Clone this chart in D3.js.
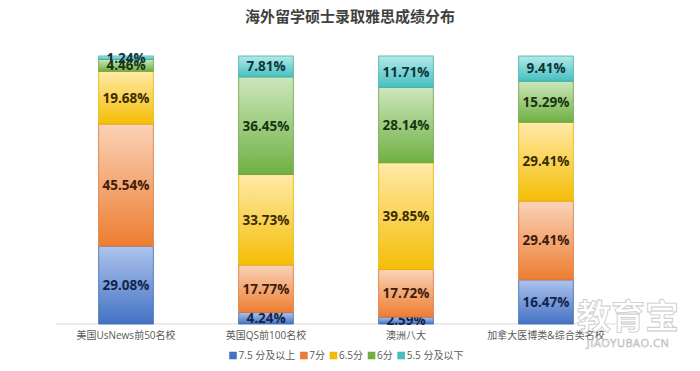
<!DOCTYPE html>
<html>
<head>
<meta charset="utf-8">
<script src="https://cdn.jsdelivr.net/npm/d3@7"></script>
<style>
  body { margin: 0; background: #fff; }
  svg { display: block; font-family: "Open Sans", "Noto Sans CJK SC", sans-serif; }
</style>
</head>
<body>
<div id="chart"></div>
<script>
// data
var schools = ["美国UsNews前50名校", "英国QS前100名校", "澳洲八大", "加拿大医博类&综合类名校"];
var bands = ["7.5 分及以上", "7分", "6.5分", "6分", "5.5 分及以下"];
var band75 = [29.08, 4.24, 2.59, 16.47];
var band7 = [45.54, 17.77, 17.72, 29.41];
var band65 = [19.68, 33.73, 39.85, 29.41];
var band6 = [4.46, 36.45, 28.14, 15.29];
var band55 = [1.24, 7.81, 11.71, 9.41];

var series_values = [band75, band7, band65, band6, band55];
// light top, strong bottom, label tint
var palette = [
  { top: "#adc4ee", bottom: "#4472c4", line: "#3f69b5", ink: "#14244a" },
  { top: "#fad3b8", bottom: "#ed7d31", line: "#dc7230", ink: "#3f1c0c" },
  { top: "#ffeaa8", bottom: "#f5bd06", line: "#e6b200", ink: "#3a2c00" },
  { top: "#cde7bd", bottom: "#6fb043", line: "#67a23f", ink: "#163511" },
  { top: "#b3eaea", bottom: "#46bfc0", line: "#3fb0b0", ink: "#0d3535" }
];

var width = 700, height = 371;
var margin = { top: 56, left: 56, right: 84, bottom: 47 };

var svg = d3.select("#chart").append("svg")
  .attr("width", width)
  .attr("height", height);

var defs = svg.append("defs");
palette.forEach(function(p, i) {
  var g = defs.append("linearGradient")
    .attr("id", "grad" + i)
    .attr("x1", 0).attr("y1", 0).attr("x2", 0).attr("y2", 1);
  g.append("stop").attr("offset", "0%").attr("stop-color", p.top);
  g.append("stop").attr("offset", "100%").attr("stop-color", p.bottom);
});

var x = d3.scaleBand()
  .domain(schools)
  .range([margin.left, width - margin.right])
  .paddingInner(0.61)
  .paddingOuter(0.305);

var y = d3.scaleLinear()
  .domain([0, 100])
  .range([height - margin.bottom, margin.top]);

//Build the stack
var rows = schools.map(function(s, i) {
  var row = { school: s };
  bands.forEach(function(b, j) { row[b] = series_values[j][i]; });
  return row;
});
var stacked = d3.stack().keys(bands)(rows);

// title
svg.append("text")
  .attr("x", width / 2)
  .attr("y", 22)
  .attr("text-anchor", "middle")
  .style("font-size", "15px")
  .style("font-weight", "bold")
  .style("fill", "#404040")
  .text("海外留学硕士录取雅思成绩分布");

// axis line
svg.append("line")
  .attr("x1", margin.left).attr("x2", width - margin.right)
  .attr("y1", y(0)).attr("y2", y(0))
  .style("stroke", "#d9d9d9");

var layers = svg.selectAll("g.layer")
  .data(stacked)
  .enter().append("g")
  .attr("class", "layer");

layers.selectAll("rect")
  .data(function(d, i) { return d.map(function(v) { return { v: v, i: i }; }); })
  .enter().append("rect")
  .attr("x", function(d) { return x(d.v.data.school); })
  .attr("width", x.bandwidth())
  .attr("y", function(d) { return y(d.v[1]); })
  .attr("height", function(d) { return y(d.v[0]) - y(d.v[1]); })
  .style("fill", function(d) { return "url(#grad" + d.i + ")"; })
  .style("stroke", function(d) { return palette[d.i].line; })
  .style("stroke-width", 0.8);

layers.selectAll("text")
  .data(function(d, i) { return d.map(function(v) { return { v: v, i: i }; }); })
  .enter().append("text")
  .attr("x", function(d) { return x(d.v.data.school) + x.bandwidth() / 2; })
  .attr("y", function(d) { return (y(d.v[0]) + y(d.v[1])) / 2; })
  .attr("dy", "0.36em")
  .attr("text-anchor", "middle")
  .style("font-size", "13.5px")
  .style("font-weight", "bold")
  .style("fill", function(d) { return palette[d.i].ink; })
  .text(function(d) { return d3.format(".2f")(d.v[1] - d.v[0]) + "%"; });

// category labels
svg.selectAll("text.cat")
  .data(schools)
  .enter().append("text")
  .attr("class", "cat")
  .attr("x", function(d) { return x(d) + x.bandwidth() / 2; })
  .attr("y", y(0) + 15)
  .attr("text-anchor", "middle")
  .style("font-size", "10px")
  .style("fill", "#595959")
  .text(function(d) { return d; });

//Legend, centred under the plot
var legend = svg.append("g");
var lx = 0;
bands.forEach(function(b, i) {
  var item = legend.append("g").attr("transform", "translate(" + lx + ",0)");
  item.append("rect")
    .attr("x", 0).attr("y", -7)
    .attr("width", 7).attr("height", 7)
    .style("fill", palette[i].bottom)
    .style("stroke", palette[i].line)
    .style("stroke-width", 0.5);
  var t = item.append("text")
    .attr("x", 9).attr("y", 0)
    .style("font-size", "10px")
    .style("fill", "#595959")
    .text(b);
  lx += 9 + t.node().getComputedTextLength() + 5;
});
legend.attr("transform", "translate(" + (349 - lx / 2) + ",359)");

// watermark
var wm = svg.append("g").style("pointer-events", "none");
wm.append("text")
  .attr("x", 628).attr("y", 329)
  .attr("text-anchor", "middle")
  .style("font-size", "34px")
  .style("font-weight", "bold")
  .style("fill", "#ffffff")
  .style("fill-opacity", 0.85)
  .style("stroke", "#c8c8c8")
  .style("stroke-width", 0.8)
  .text("教育宝");
wm.append("text")
  .attr("x", 628).attr("y", 347)
  .attr("text-anchor", "middle")
  .style("font-size", "11px")
  .style("letter-spacing", "0.5px")
  .style("fill", "#ffffff")
  .style("stroke", "#bdbdbd")
  .style("stroke-width", 0.6)
  .text("JIAOYUBAO.CN");
</script>
</body>
</html>
